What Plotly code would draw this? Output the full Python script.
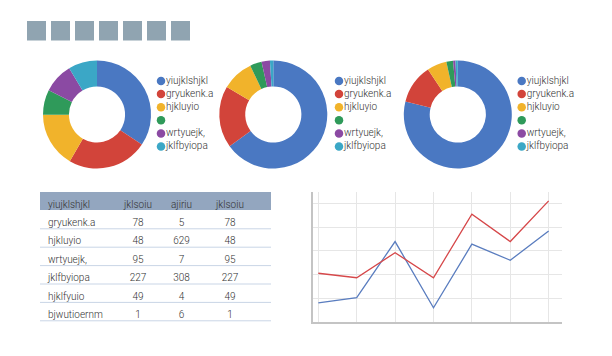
import plotly.graph_objects as go

# page body has an 8px margin: figure drawn at (8,8) of the 612x356 window
OFF = 8
W, H = 612 - 2 * OFF, 356 - 2 * OFF

# ---------------- data ----------------
categories = ["yiujklshjkl", "gryukenk.a", "hjkluyio", "hjklfyuio", "wrtyuejk,", "jklfbyiopa"]
legend_labels = ["yiujklshjkl", "gryukenk.a", "hjkluyio", "", "wrtyuejk,", "jklfbyiopa"]
donut1_values = [34.4, 24.0, 16.5, 7.5, 9.0, 8.6]
donut2_values = [65.0, 18.5, 9.5, 3.5, 2.5, 1.0]
donut3_values = [78.9, 11.8, 5.9, 2.0, 0.7, 0.7]

table_header = ["yiujklshjkl", "jklsoiu", "ajiriu", "jklsoiu", ""]
table_rows = ["gryukenk.a", "hjkluyio", "wrtyuejk,", "jklfbyiopa", "hjklfyuio", "bjwutioernm"]
table_col1 = [78, 48, 95, 227, 49, 1]
table_col2 = [5, 629, 7, 308, 4, 6]
table_col3 = [78, 48, 95, 227, 49, 1]
table_pad = [""] * 6

line_x = [0, 1, 2, 3, 4, 5, 6]
line_blue = [0.80, 1.02, 3.39, 0.59, 3.28, 2.60, 3.84]
line_red = [2.05, 1.86, 2.92, 1.86, 4.55, 3.39, 5.11]

slice_colors = ["#4a78c2", "#d2443a", "#f1b32b", "#2f9a5a", "#8b4aa3", "#3ba7c6"]
FONT = "Roboto, sans-serif"
FS = 10
FW = 300
TXT = "#333333"


def px_x(a, b):
    return [(a - OFF) / W, (b - OFF) / W]


def px_y(top, bottom):
    return [1 - (bottom - OFF) / H, 1 - (top - OFF) / H]


fig = go.Figure()

# ---------------- donuts ----------------
donut_centers = [97, 273.3, 457.8]
donut_vals = [donut1_values, donut2_values, donut3_values]
R = 54
for cx, vals in zip(donut_centers, donut_vals):
    fig.add_trace(go.Pie(
        labels=categories, values=vals, hole=0.52, sort=False,
        direction="clockwise", rotation=0, textinfo="none", hoverinfo="label+percent",
        marker=dict(colors=slice_colors, line=dict(width=0)),
        domain=dict(x=px_x(cx - R, cx + R), y=px_y(114.5 - R, 114.5 + R)),
        showlegend=False,
    ))

# ---------------- legends (as scatter) ----------------
legend_marker_x = [161, 339, 521.7]
leg_idx = list(range(len(legend_labels)))
row0, step = 81, 13.1
for i, mx in enumerate(legend_marker_x):
    ax = i + 2
    fig.add_trace(go.Scatter(
        x=[0] * len(leg_idx), y=leg_idx, mode="markers",
        marker=dict(color=slice_colors, size=8.5),
        xaxis=f"x{ax}", yaxis=f"y{ax}", showlegend=False, hoverinfo="skip",
    ))
    fig.add_trace(go.Scatter(
        x=[5] * len(leg_idx), y=leg_idx, mode="text",
        text=legend_labels, textposition="middle right",
        textfont=dict(family=FONT, size=FS, color=TXT, weight=FW),
        xaxis=f"x{ax}", yaxis=f"y{ax}", showlegend=False, hoverinfo="skip",
    ))
    fig.update_layout(**{
        f"xaxis{ax}": dict(domain=px_x(mx - 6, mx + 74), range=[-6, 74], visible=False, fixedrange=True),
        f"yaxis{ax}": dict(domain=px_y(row0 - step / 2, row0 + 5.5 * step), range=[5.5, -0.5],
                           visible=False, fixedrange=True),
    })

# ---------------- table ----------------
n_rows = len(table_rows)
tbl_top, tbl_left, tbl_right = 192, 40, 271
row_h = 18.4
tbl_bottom = tbl_top + row_h * (n_rows + 1)
fig.add_trace(go.Table(
    domain=dict(x=px_x(tbl_left, tbl_right), y=px_y(tbl_top, tbl_bottom + 2)),
    columnwidth=[76, 44, 43, 54, 14],
    header=dict(values=table_header, align=["left", "center", "center", "center", "center"],
                fill_color="#93a6bf", line=dict(color="#93a6bf", width=0),
                font=dict(family=FONT, size=FS, color=TXT, weight=FW), height=row_h),
    cells=dict(values=[table_rows, table_col1, table_col2, table_col3, table_pad],
               align=["left", "center", "center", "center", "center"],
               fill_color="white", line=dict(color="white", width=0),
               font=dict(family=FONT, size=FS, color=TXT, weight=FW), height=row_h),
))
for k in range(n_rows):
    yy = tbl_top + row_h * (k + 2)
    fig.add_shape(type="line", xref="paper", yref="paper",
                  x0=(tbl_left - OFF) / W, x1=(tbl_right - OFF) / W,
                  y0=1 - (yy - OFF) / H, y1=1 - (yy - OFF) / H,
                  line=dict(color="#c9d5e6", width=1), layer="above")

# ---------------- line chart ----------------
fig.add_trace(go.Scatter(x=line_x, y=line_blue, mode="lines",
                         line=dict(color="#5a7dbf", width=1.3), showlegend=False,
                         xaxis="x", yaxis="y"))
fig.add_trace(go.Scatter(x=line_x, y=line_red, mode="lines",
                         line=dict(color="#d6484a", width=1.3), showlegend=False,
                         xaxis="x", yaxis="y"))
fig.update_layout(
    xaxis=dict(domain=px_x(312.7, 561.7), range=[-0.146, 6.34], dtick=1, tick0=0,
               showgrid=True, gridcolor="#e6e6e6", gridwidth=1, showticklabels=False,
               ticks="", zeroline=False, showline=True, linecolor="#c4c4c4", linewidth=2,
               fixedrange=True),
    yaxis=dict(domain=px_y(191.7, 321.7), range=[0, 5.5], dtick=1, tick0=0,
               showgrid=True, gridcolor="#e6e6e6", gridwidth=1, showticklabels=False,
               ticks="", zeroline=False, showline=True, linecolor="#c4c4c4", linewidth=2,
               fixedrange=True),
)

# ---------------- redacted title blocks ----------------
for i in range(7):
    x0 = 27 + 24 * i
    fig.add_shape(type="rect", xref="paper", yref="paper",
                  x0=(x0 - OFF) / W, x1=(x0 + 19 - OFF) / W,
                  y0=1 - (40.5 - OFF) / H, y1=1 - (21 - OFF) / H,
                  fillcolor="#90a4b1", line=dict(width=0), layer="above")

fig.update_layout(
    width=W, height=H, margin=dict(l=0, r=0, t=0, b=0),
    paper_bgcolor="white", plot_bgcolor="white", showlegend=False,
    font=dict(family=FONT, size=FS, color=TXT),
)

fig.write_html("out.html")
